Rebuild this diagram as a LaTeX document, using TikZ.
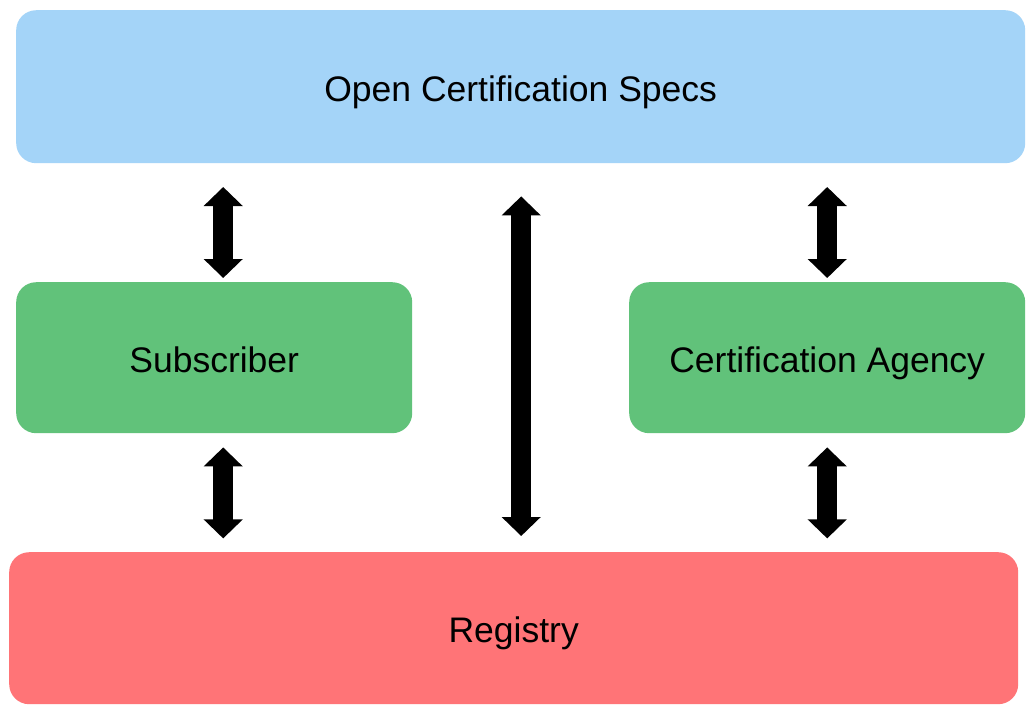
\documentclass[tikz,border=0pt]{standalone}
\usepackage{fontspec}
\setmainfont{Liberation Sans}
\usetikzlibrary{arrows.meta,calc}
\definecolor{specblue}{HTML}{A4D4F8}
\definecolor{agentgreen}{HTML}{61C27A}
\definecolor{regred}{HTML}{FF7477}
\tikzset{
  block/.style={rounded corners=20pt, draw=none, inner sep=0pt, anchor=north west,
    font=\fontsize{35.5}{42}\selectfont, text=black, text height=29pt, text depth=0pt},
  bigarrow/.style={line width=20pt, {Triangle[width=38pt,length=19pt]}-{Triangle[width=38pt,length=19pt]}}
}
\begin{document}
\begin{tikzpicture}[x=1pt,y=-1pt]
\useasboundingbox[fill=white] (0,0) rectangle (1035,724);
\node[block, fill=specblue, minimum width=1009pt, minimum height=153pt] (spec) at (16,10) {Open Certification Specs};
\node[block, fill=agentgreen, minimum width=396pt, minimum height=151pt] (sub) at (16,282) {Subscriber};
\node[block, fill=agentgreen, minimum width=396pt, minimum height=151pt] (agency) at (629,282) {Certification Agency};
\node[block, fill=regred, minimum width=1009pt, minimum height=152pt] (reg) at (9,552) {Registry};
\draw[bigarrow] ($(sub.north)+(9,-95)$) -- ($(sub.north)+(9,-4)$);
\draw[bigarrow] ($(sub.south)+(9,14)$) -- ($(sub.south)+(9,105)$);
\draw[bigarrow] ($(agency.north)+(0,-95)$) -- ($(agency.north)+(0,-4)$);
\draw[bigarrow] ($(agency.south)+(0,14)$) -- ($(agency.south)+(0,105)$);
\draw[bigarrow] ($(spec.south)+(0.5,33)$) -- ($(reg.north)+(7.5,-16)$);
\end{tikzpicture}
\end{document}
